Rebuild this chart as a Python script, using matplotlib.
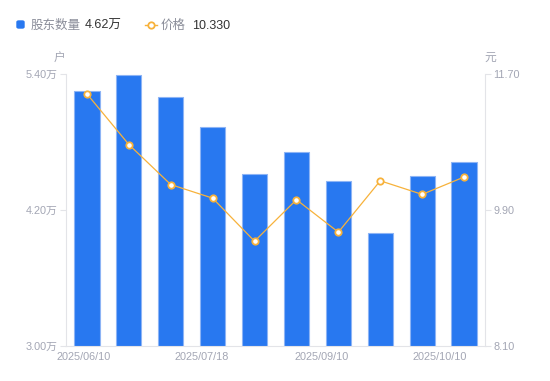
import matplotlib
matplotlib.use("Agg")
import matplotlib.pyplot as plt
import numpy as np
from matplotlib.patches import FancyBboxPatch
from matplotlib.lines import Line2D

plt.rcParams['font.family'] = ['Liberation Sans', 'Noto Sans CJK SC', 'DejaVu Sans']

# data
holders = [5.25, 5.39, 5.19, 4.93, 4.51, 4.71, 4.45, 3.99, 4.50, 4.62]   # 万户
price = [11.43, 10.76, 10.23, 10.05, 9.48, 10.03, 9.60, 10.28, 10.10, 10.33]
date_labels = ["2025/06/10", "2025/07/18", "2025/09/10", "2025/10/10"]
left_ticks = [3.00, 4.20, 5.40]
right_ticks = [8.10, 9.90, 11.70]

BLUE = "#2878F0"
EDGE = "#8DB4F5"
ORANGE = "#F7B23B"
GRAY = "#A3A6B4"
AXIS = "#E3E4E8"

fig = plt.figure(figsize=(5.5, 3.81), dpi=100)
ax = fig.add_axes([66 / 550, 1 - 345.5 / 381, (485 - 66) / 550, (345.5 - 73.5) / 381])
ax2 = ax.twinx()

x = np.arange(len(holders))
ax.bar(x, holders, width=0.6, color=BLUE, edgecolor=EDGE, linewidth=0.8, zorder=2)
ax.set_xlim(-0.5, len(holders) - 0.5)
ax.set_ylim(left_ticks[0], left_ticks[-1])
ax.set_yticks(left_ticks)
ax.set_yticklabels([f"{v:.2f}万" for v in left_ticks])

ax2.plot(x, price, color=ORANGE, linewidth=0.9, marker="o", markersize=4.6,
         markerfacecolor="white", markeredgecolor=ORANGE, markeredgewidth=1.3, zorder=3)
ax2.set_ylim(right_ticks[0], right_ticks[-1])
ax2.set_yticks(right_ticks)
ax2.set_yticklabels([f"{v:.2f}" for v in right_ticks])

# date labels spread evenly under the axis
ax.set_xticks(np.linspace(-0.09, 8.43, len(date_labels)))
ax.set_xticklabels(date_labels)

for a in (ax, ax2):
    for s in a.spines.values():
        s.set_color(AXIS)
        s.set_linewidth(0.8)
    a.spines['top'].set_visible(False)
    a.tick_params(colors=GRAY, labelsize=7.8, length=4, width=0.8, color=AXIS, pad=2)
ax2.spines['left'].set_visible(False)
ax.spines['right'].set_visible(False)
ax2.spines['bottom'].set_visible(False)
ax.tick_params(axis='x', length=0, pad=5)
ax.set_zorder(ax2.get_zorder() - 1)
ax.patch.set_visible(True)
ax2.patch.set_visible(False)

fig.text(59 / 550, 1 - 59 / 381, "户", color=GRAY, fontsize=8.5, ha="center", va="center")
fig.text(490 / 550, 1 - 58 / 381, "元", color=GRAY, fontsize=8.5, ha="center", va="center")

# legend
fig.patches.append(FancyBboxPatch((17 / 550, 1 - 28 / 381), 7 / 550, 7 / 381,
                                  boxstyle="round,pad=0,rounding_size=0.003",
                                  transform=fig.transFigure, color=BLUE))
ly = 1 - 24.5 / 381
ty = 1 - 26 / 381
fig.text(31 / 550, ty, "股东数量", color="#8A8D99", fontsize=9, va="center")
fig.text(85 / 550, ty, "4.62万", color="#333333", fontsize=9, va="center")
fig.lines.append(Line2D([145 / 550, 157 / 550], [ly, ly], transform=fig.transFigure,
                        color=ORANGE, linewidth=1))
fig.lines.append(Line2D([151 / 550], [ly], transform=fig.transFigure, marker="o",
                        markersize=4.6, markerfacecolor="white", markeredgecolor=ORANGE,
                        markeredgewidth=1.3))
fig.text(161 / 550, ty, "价格", color="#8A8D99", fontsize=9, va="center")
fig.text(192 / 550, ty, "10.330", color="#333333", fontsize=9, va="center")

fig.savefig("out.png", dpi=100)
